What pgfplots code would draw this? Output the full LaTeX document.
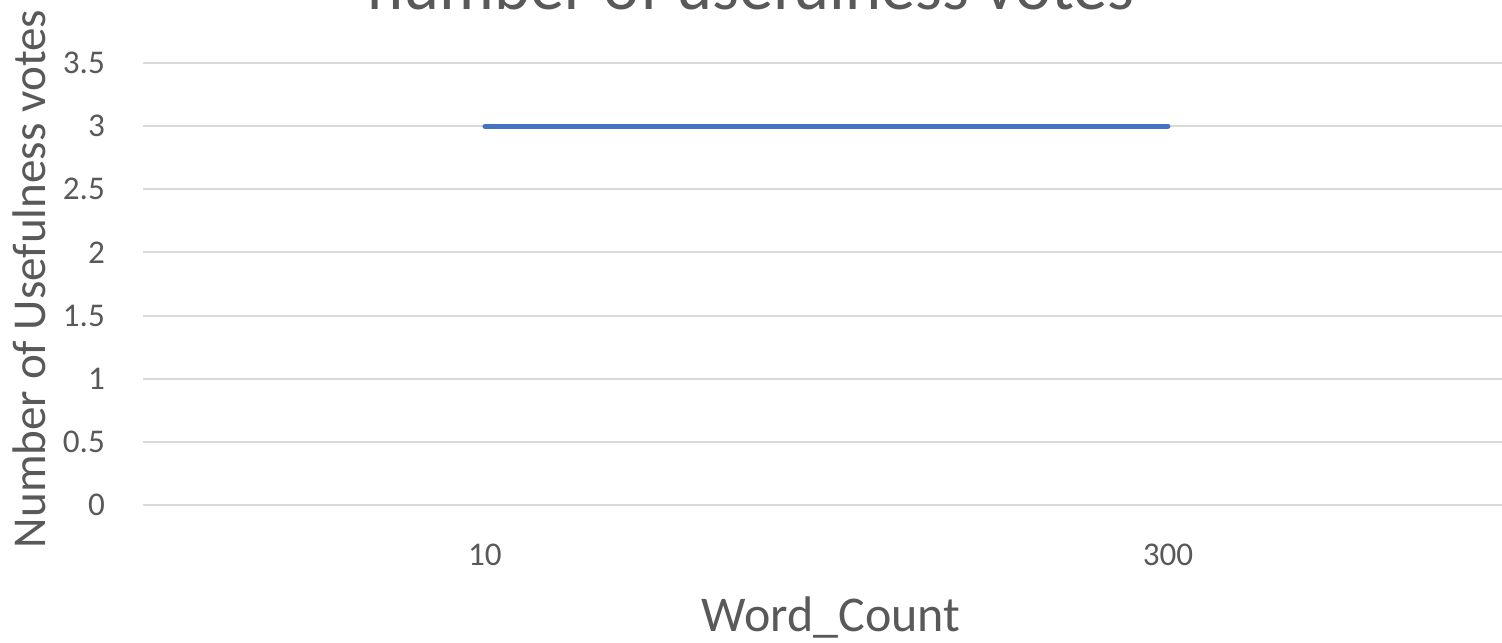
\documentclass[border=0pt]{standalone}
\usepackage{fontspec}
\setmainfont{Carlito}
\usepackage{pgfplots}
\pgfplotsset{compat=1.18}
\definecolor{txt}{HTML}{595959}
\definecolor{gridc}{HTML}{D9D9D9}
\definecolor{linec}{HTML}{4472C4}
\begin{document}
\begin{tikzpicture}[x=0.35pt,y=0.35pt]
\useasboundingbox (0,0) rectangle (1502,643);
\clip (0,0) rectangle (1502,643);
\begin{axis}[
  at={(50.225pt,48.3pt)}, anchor=south west,
  scale only axis, width=478.1pt, height=154.7pt,
  xmin=-0.5, xmax=1.5, ymin=0, ymax=3.5,
  xtick={0,1}, xticklabels={10,300},
  ytick={0,0.5,1,1.5,2,2.5,3,3.5},
  axis line style={draw=none},
  tick style={draw=none},
  ymajorgrids, grid style={gridc, line width=0.7pt},
  /pgf/number format/assume math mode=true,
  every tick label/.append style={font=\fontsize{11.6}{14}\selectfont, text=txt},
  yticklabel style={xshift=-10pt},
  xticklabel style={yshift=-10pt},
  clip=false,
]
\addplot[linec, line width=1.75pt, line cap=round] coordinates {(0,3) (1,3)};
\end{axis}
\node[anchor=base, font=\fontsize{24}{28}\selectfont, text=txt] at (751,633) {number of usefulness votes};
\node[rotate=90, font=\fontsize{16.5}{20}\selectfont, text=txt] at (29,364) {Number of Usefulness votes};
\node[anchor=base, font=\fontsize{17.5}{21}\selectfont, text=txt] at (831,11) {Word\_Count};
\end{tikzpicture}
\end{document}
